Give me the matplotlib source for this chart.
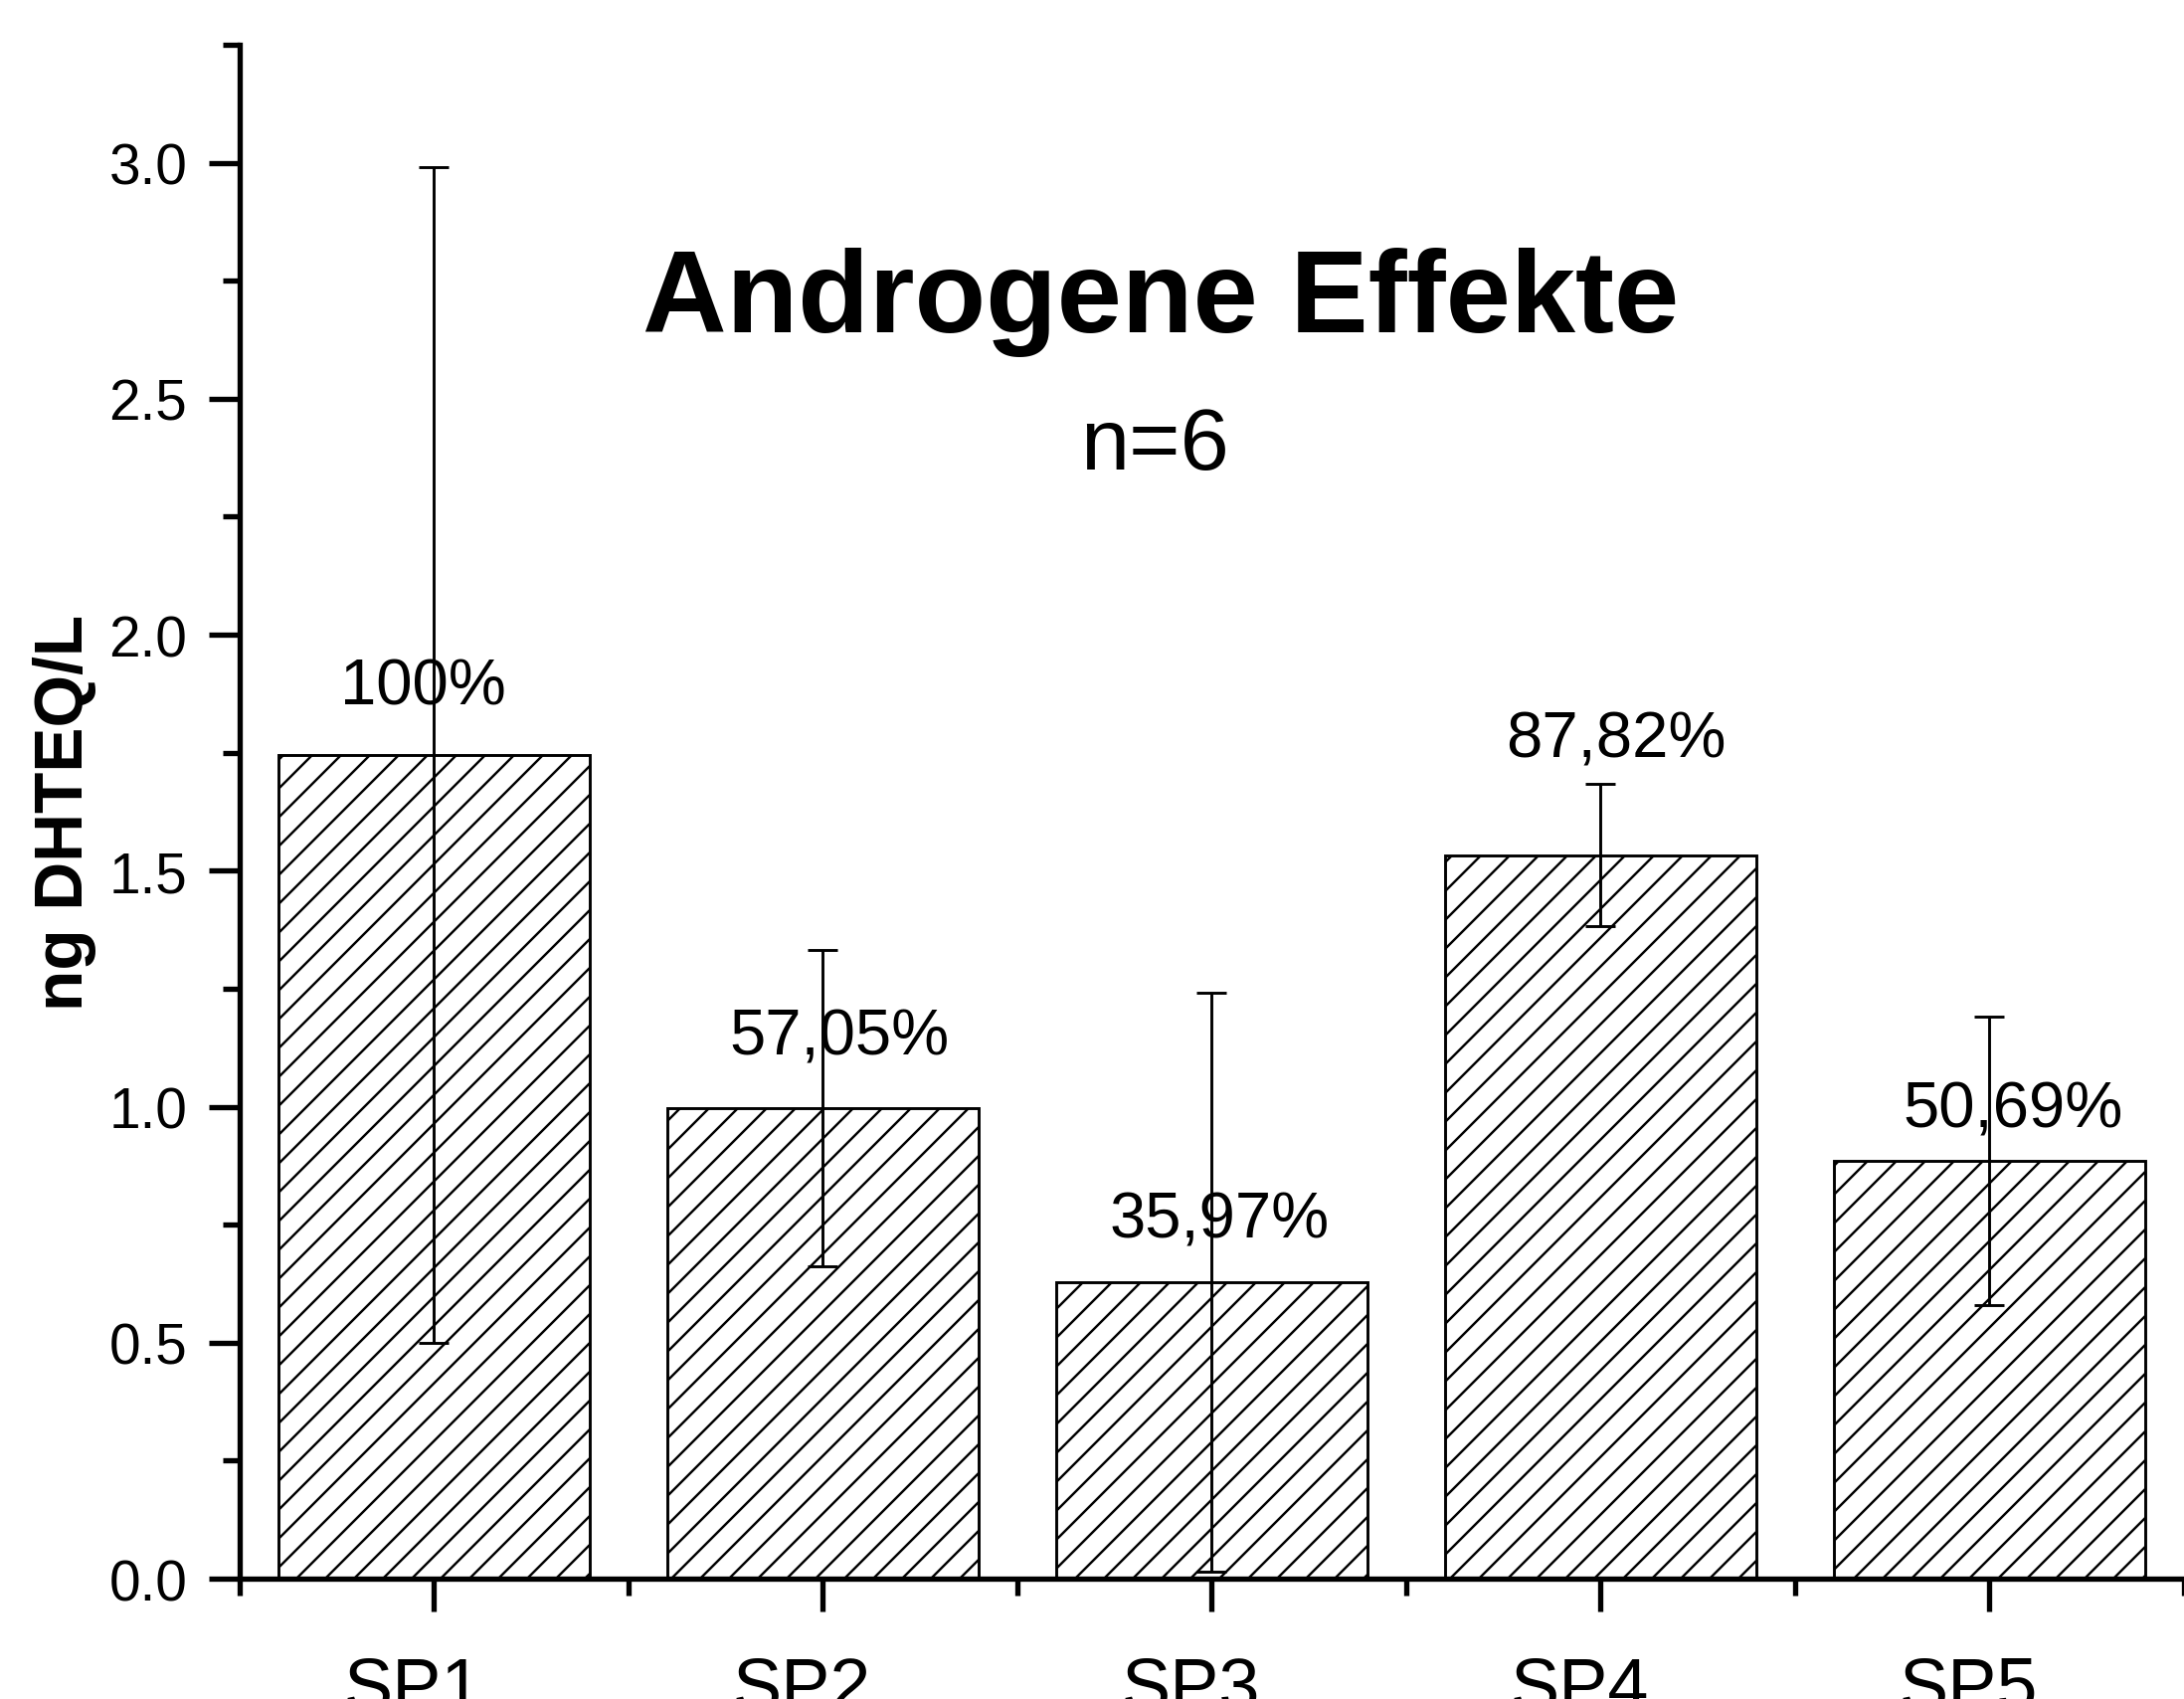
import matplotlib
matplotlib.use("Agg")
import matplotlib.pyplot as plt
from matplotlib.ticker import MultipleLocator, FixedLocator, FormatStrFormatter
from matplotlib.transforms import ScaledTranslation

# --- data -------------------------------------------------------------
samples = ["SP1", "SP2", "SP3", "SP4", "SP5"]
dhteq = [1.745, 0.996, 0.628, 1.533, 0.885]      # ng DHTEQ/L
dhteq_err = [1.245, 0.335, 0.613, 0.150, 0.305]  # standard deviation
percent_labels = ["100%", "57,05%", "35,97%", "87,82%", "50,69%"]

# --- layout -----------------------------------------------------------
DPI = 174
plt.rcParams["font.family"] = ["Liberation Sans", "DejaVu Sans"]
plt.rcParams["hatch.linewidth"] = 1.0
plt.rcParams["hatch.color"] = "black"

fig = plt.figure(figsize=(2196 / DPI, 1709 / DPI), dpi=DPI)
ax = fig.add_axes([0.1097, 0.0708, 0.8903, 0.9023])

x = list(range(1, len(samples) + 1))
ax.bar(x, dhteq, width=0.8, facecolor="white", edgecolor="black",
       linewidth=1.2, hatch="//", zorder=2)

# percentage annotations (offsets in points from the bar top)
label_offsets = [(-4.6, 21.4), (6.7, 22.6), (3.2, 19.0), (6.4, 41.0), (9.6, 14.5)]
for xi, val, txt, (dx, dy) in zip(x, dhteq, percent_labels, label_offsets):
    ax.annotate(txt, xy=(xi, val), xytext=(dx, dy), textcoords="offset points",
                ha="center", va="baseline", fontsize=27, zorder=3)

ax.errorbar(x, dhteq, yerr=dhteq_err, fmt="none", ecolor="black",
            elinewidth=1.2, capsize=6.2, capthick=1.2, zorder=4)

ax.text(2.87, 2.644, "Androgene Effekte", ha="center", va="baseline",
        fontsize=48.5, fontweight="bold")
ax.text(2.853, 2.352, "n=6", ha="center", va="baseline", fontsize=36.5)

# --- axes styling -----------------------------------------------------
ax.set_xlim(0.5, 5.5)
ax.set_ylim(0, 3.25)
ax.set_xticks(x)
ax.set_xticklabels(samples)
ax.xaxis.set_minor_locator(FixedLocator([0.5, 1.5, 2.5, 3.5, 4.5, 5.5]))
ax.yaxis.set_major_locator(MultipleLocator(0.5))
ax.yaxis.set_minor_locator(MultipleLocator(0.25))
ax.yaxis.set_major_formatter(FormatStrFormatter("%.1f"))

for side in ("top", "right"):
    ax.spines[side].set_visible(False)
for side in ("left", "bottom"):
    ax.spines[side].set_linewidth(2.2)

ax.tick_params(axis="both", which="major", direction="out", length=12.8,
               width=2.2, color="black")
ax.tick_params(axis="both", which="minor", direction="out", length=7,
               width=2.2, color="black")
ax.tick_params(axis="x", which="major", length=13.5)
ax.tick_params(axis="y", which="major", labelsize=23.5, pad=9)
ax.tick_params(axis="x", which="major", labelsize=30.5, pad=18)

# category labels sit slightly left of their ticks
shift = ScaledTranslation(-21 / DPI, 0, fig.dpi_scale_trans)
for lbl in ax.get_xticklabels():
    lbl.set_transform(lbl.get_transform() + shift)

ax.set_ylabel("ng DHTEQ/L", fontsize=28, fontweight="bold")
ax.yaxis.set_label_coords(-0.0737, 0.5)

fig.savefig("out.png", dpi=DPI)
